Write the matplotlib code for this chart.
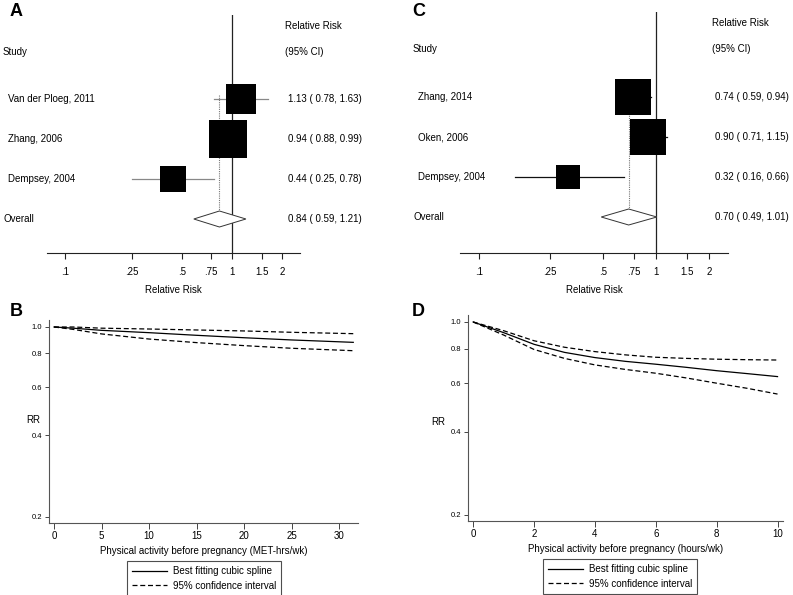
import numpy as np
import matplotlib
matplotlib.use("Agg")
import matplotlib.pyplot as plt
from matplotlib import transforms
from matplotlib.lines import Line2D
from matplotlib.patches import Polygon

plt.rcParams['font.family'] = ['Liberation Sans', 'DejaVu Sans']

# ---------------- data ----------------
studies_a = ["Van der Ploeg, 2011", "Zhang, 2006", "Dempsey, 2004"]
rr_a = [1.13, 0.94, 0.44]
lo_a = [0.78, 0.88, 0.25]
hi_a = [1.63, 0.99, 0.78]
weights_a = [31, 47, 22]
overall_a = (0.84, 0.59, 1.21)

studies_c = ["Zhang, 2014", "Oken, 2006", "Dempsey, 2004"]
rr_c = [0.74, 0.90, 0.32]
lo_c = [0.59, 0.71, 0.16]
hi_c = [0.94, 1.15, 0.66]
weights_c = [41, 41, 17]
overall_c = (0.70, 0.49, 1.01)

forest_ticks = [0.1, 0.25, 0.5, 0.75, 1, 1.5, 2]
forest_ticklabels = [".1", ".25", ".5", ".75", "1", "1.5", "2"]

b_x = [0, 2, 5, 10, 15, 20, 25, 31.5]
b_fit = [1.0, 0.99, 0.972, 0.953, 0.932, 0.913, 0.896, 0.878]
b_upper = [1.0, 1.0, 0.99, 0.983, 0.975, 0.967, 0.956, 0.945]
b_lower = [1.0, 0.98, 0.943, 0.903, 0.876, 0.854, 0.835, 0.818]

d_x = [0, 1, 2, 3, 4, 5, 6, 7, 8, 9, 10]
d_fit = [1.0, 0.915, 0.83, 0.776, 0.743, 0.72, 0.703, 0.685, 0.666, 0.65, 0.634]
d_upper = [1.0, 0.93, 0.855, 0.81, 0.781, 0.76, 0.745, 0.738, 0.733, 0.73, 0.728]
d_lower = [1.0, 0.897, 0.795, 0.738, 0.699, 0.673, 0.652, 0.627, 0.6, 0.575, 0.548]

rr_yticks = [0.2, 0.4, 0.6, 0.8, 1.0]
rr_yticklabels = ["0.2", "0.4", "0.6", "0.8", "1.0"]

FS = 7

# ---------------- figure ----------------
W, H = 793, 595
fig = plt.figure(figsize=(W / 100, H / 100), dpi=100)


def px_axes(x0, y0, x1, y1):
    return fig.add_axes([x0 / W, 1 - y1 / H, (x1 - x0) / W, (y1 - y0) / H])


def forest(ax, studies, rr, lo, hi, weights, overall, k_px, ylim,
           left_x, name_x, right_x, head_x, ci_color, study_y, head_y):
    ax.set_xscale('log')
    ax.set_xlim(0.078, 2.55)
    ax.set_ylim(*ylim)
    for s in ['top', 'right', 'left']:
        ax.spines[s].set_visible(False)
    ax.spines['bottom'].set_color('#222222')
    ax.spines['bottom'].set_linewidth(0.8)
    ax.set_yticks([])
    ax.set_xticks(forest_ticks)
    ax.set_xticklabels(forest_ticklabels, fontsize=FS)
    ax.xaxis.set_minor_locator(matplotlib.ticker.NullLocator())
    ax.tick_params(axis='x', length=4, width=0.8, pad=6, color='#222222')
    ax.set_xlabel("Relative Risk", fontsize=FS, labelpad=6)
    ax.axvline(1, color='#222222', lw=0.9, zorder=1)
    n = len(studies)
    rows = np.arange(1, n + 1)
    # overall dotted line
    ax.plot([overall[0], overall[0]], [0.9, n + 1 - 0.2], color='#777777',
            lw=0.8, ls=(0, (1, 1)), zorder=2)
    for r, m, l, h, w in zip(rows, rr, lo, hi, weights):
        ax.plot([l, h], [r, r], color=ci_color, lw=0.9, zorder=3)
        ax.plot([m], [r], marker='s', color='black', mec='black', mew=0,
                markersize=k_px * np.sqrt(w) * 0.72, zorder=4)
    m, l, h = overall
    yo = n + 1
    dia = Polygon([[l, yo], [m, yo - 0.2], [h, yo], [m, yo + 0.2]],
                  closed=True, facecolor='white', edgecolor='#333333',
                  lw=0.7, zorder=4)
    ax.add_patch(dia)
    tr = transforms.blended_transform_factory(fig.transFigure, ax.transData)
    kw = dict(transform=tr, fontsize=FS, va='center', ha='left', clip_on=False)
    ax.text(left_x / W, study_y, "Study", **kw)
    ax.text(head_x / W, head_y, "Relative Risk", **kw)
    ax.text(head_x / W, study_y, "(95% CI)", **kw)
    for r, s, mm, ll, hh in zip(rows, studies, rr, lo, hi):
        ax.text(name_x / W, r, s, **kw)
        ax.text(right_x / W, r, f"{mm:.2f} ( {ll:.2f}, {hh:.2f})", **kw)
    ax.text(left_x / W, yo, "Overall", **kw)
    ax.text(right_x / W, yo, f"{m:.2f} ( {l:.2f}, {h:.2f})", **kw)


axA = px_axes(47, 15, 300, 253)
forest(axA, studies_a, rr_a, lo_a, hi_a, weights_a, overall_a, 5.4,
       (4.85, -1.1), 3, 8, 288, 285, '#888888', -0.175, -0.825)

axC = px_axes(460, 12, 728, 253)
forest(axC, studies_c, rr_c, lo_c, hi_c, weights_c, overall_c, 5.6,
       (4.9, -1.125), 413, 418, 715, 712, '#111111', -0.2, -0.85)


def spline_panel(ax, x, fit, up, lo, xlim, xticks, xlabel, ylim, rr_coords):
    ax.set_yscale('log')
    ax.set_ylim(*ylim)
    ax.set_xlim(*xlim)
    ax.plot(x, fit, color='black', lw=0.9, label="Best fitting cubic spline")
    ax.plot(x, up, color='black', lw=0.9, ls=(0, (4, 2.2)),
            label="95% confidence interval")
    ax.plot(x, lo, color='black', lw=0.9, ls=(0, (4, 2.2)))
    ax.set_yticks(rr_yticks)
    ax.set_yticklabels(rr_yticklabels, fontsize=5.5)
    ax.yaxis.set_minor_locator(matplotlib.ticker.NullLocator())
    ax.yaxis.set_minor_formatter(matplotlib.ticker.NullFormatter())
    ax.set_xticks(xticks)
    ax.set_xticklabels([str(t) for t in xticks], fontsize=FS)
    ax.tick_params(axis='y', length=3, width=0.7, pad=2, color='#444444')
    ax.tick_params(axis='x', length=4, width=0.7, pad=2, color='#444444')
    for s in ['top', 'right']:
        ax.spines[s].set_visible(False)
    for s in ['left', 'bottom']:
        ax.spines[s].set_color('#555555')
        ax.spines[s].set_linewidth(0.8)
    ax.set_xlabel(xlabel, fontsize=FS, labelpad=3.5)
    ax.set_ylabel("RR", fontsize=FS, rotation=0, va='center', ha='center')
    ax.yaxis.set_label_coords(*rr_coords)


axB = px_axes(49, 320, 358, 523)
spline_panel(axB, b_x, b_fit, b_upper, b_lower, (-0.53, 32.0),
             [0, 5, 10, 15, 20, 25, 30],
             "Physical activity before pregnancy (MET-hrs/wk)",
             (0.19, 1.061), (-0.052, 0.507))

axD = px_axes(468, 315, 783, 521)
spline_panel(axD, d_x, d_fit, d_upper, d_lower, (-0.17, 10.18),
             [0, 2, 4, 6, 8, 10],
             "Physical activity before pregnancy (hours/wk)",
             (0.19, 1.06), (-0.095, 0.48))


def legend_at(cx, top):
    h = [Line2D([], [], color='black', lw=0.9),
         Line2D([], [], color='black', lw=0.9, ls=(0, (4, 2.2)))]
    lab = ["Best fitting cubic spline", "95% confidence interval"]
    leg = fig.legend(h, lab, loc='upper center',
                     bbox_to_anchor=(cx / W, 1 - top / H),
                     fontsize=FS, frameon=True, fancybox=False,
                     handlelength=3.6, handletextpad=0.6,
                     borderpad=0.55, labelspacing=0.45, borderaxespad=0)
    leg.get_frame().set_edgecolor('#222222')
    leg.get_frame().set_linewidth(0.8)


legend_at(204, 561)
legend_at(620, 559)

# panel letters
for lbl, x, y in [("A", 16, 12), ("B", 16, 312), ("C", 419, 12), ("D", 418, 312)]:
    fig.text(x / W, 1 - y / H, lbl, fontsize=13, fontweight='bold',
             ha='center', va='center')

fig.savefig("out.png", dpi=100)
